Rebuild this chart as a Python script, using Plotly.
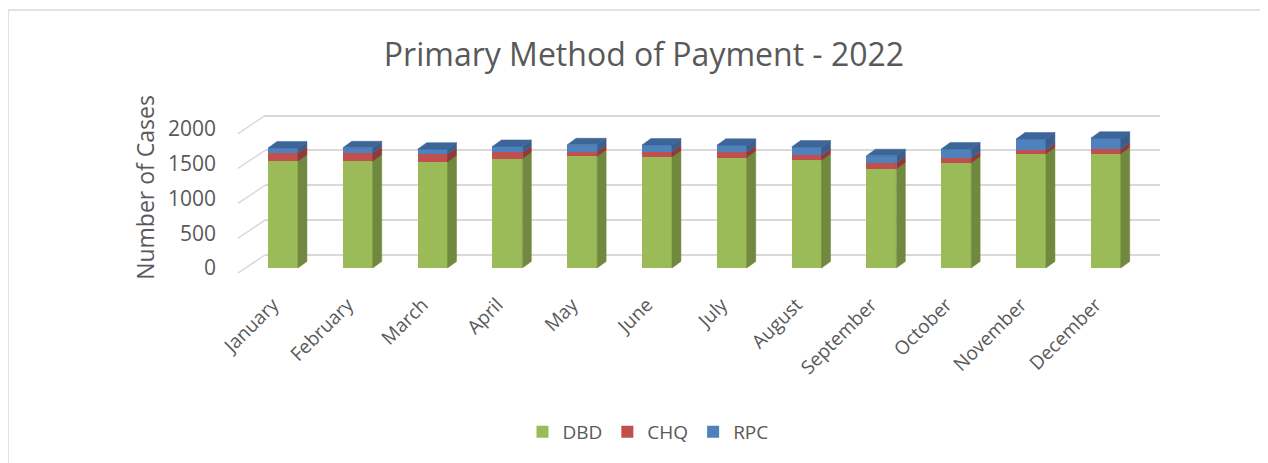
import plotly.graph_objects as go

# ---- data ----
months = ["January", "February", "March", "April", "May", "June",
          "July", "August", "September", "October", "November", "December"]
dbd = [1530, 1530, 1520, 1568, 1600, 1590, 1585, 1544, 1420, 1506, 1636, 1636]
chq = [120, 120, 115, 90, 68, 75, 80, 72, 86, 72, 62, 72]
rpc = [72, 75, 70, 86, 100, 100, 95, 120, 105, 130, 153, 155]
y_ticks = [0, 500, 1000, 1500, 2000]

series = [("DBD", dbd, "#9BBB59", "#71893F", "#86A34A"),
          ("CHQ", chq, "#C0504D", "#8E3A37", "#A94542"),
          ("RPC", rpc, "#4F81BD", "#3A5F8C", "#3C6598")]

# ---- geometry / style ----
W, H = 1268, 463
OX, OY = 8, 8                 # page body margin offset
ML = 265 - OX
MT = 100 - OY
plot_right = 1160 - OX
plot_bottom = 275 - OY
MR = W - plot_right
MB = H - plot_bottom
plot_w = plot_right - ML
plot_h = plot_bottom - MT
k = 0.0697                     # px per unit
bar_w = 0.40
hw = bar_w / 2
dx = 0.12                      # 3-D depth (category units)
dy = 6.5 / k                   # 3-D depth (value units)
txt = "#595959"
font_family = "Open Sans"

x = list(range(len(months)))

fig = go.Figure()

# front faces (stacked bars)
for name, vals, c_front, c_side, c_top in series:
    fig.add_trace(go.Bar(x=x, y=vals, name=name, width=bar_w,
                         marker=dict(color=c_front, line=dict(width=0)),
                         xaxis="x", yaxis="y2"))

# side and top faces computed from the data
base = [0] * len(months)
for si, (name, vals, c_front, c_side, c_top) in enumerate(series):
    sx, sy = [], []
    for i, (b, v) in enumerate(zip(base, vals)):
        t = b + v
        sx += [i + hw, i + hw + dx, i + hw + dx, i + hw, i + hw, None]
        sy += [b, b + dy, t + dy, t, b, None]
    fig.add_trace(go.Scatter(x=sx, y=sy, mode="lines", fill="toself",
                             fillcolor=c_side, line=dict(color=c_side, width=0.5),
                             hoverinfo="skip", showlegend=False,
                             xaxis="x", yaxis="y2"))
    base = [b + v for b, v in zip(base, vals)]
    if si == len(series) - 1:
        tx, ty = [], []
        for i, T in enumerate(base):
            tx += [i - hw, i - hw + dx, i + hw + dx, i + hw, i - hw, None]
            ty += [T, T + dy, T + dy, T, T, None]
        fig.add_trace(go.Scatter(x=tx, y=ty, mode="lines", fill="toself",
                                 fillcolor=c_top, line=dict(color=c_top, width=0.5),
                                 hoverinfo="skip", showlegend=False,
                                 xaxis="x", yaxis="y2"))

# ranges
first_center = 283 - OX
step = 74.8
x0 = (ML - first_center) / step
x1 = (plot_right - first_center) / step
back_zero_px = 255 - OY   # back wall zero line
front_zero_px = 268 - OY  # bar floor
y_back = [-(plot_bottom - back_zero_px) / k, (back_zero_px - MT) / k]
y_front = [-(plot_bottom - front_zero_px) / k, (front_zero_px - MT) / k]

shapes = []
# slanted side-wall lines
slant_px_x = 27
slant_px_y = 18
for v in y_ticks:
    shapes.append(dict(type="line", xref="paper", yref="y",
                       x0=-slant_px_x / plot_w, y0=v - slant_px_y / k,
                       x1=0, y1=v, line=dict(color="#D9D9D9", width=1.5)))
# chart border
shapes.append(dict(type="rect", xref="paper", yref="paper",
                   x0=(8 - OX - ML) / plot_w, x1=(W + 40 - ML) / plot_w,
                   y0=(plot_bottom - (H + 40)) / plot_h, y1=(plot_bottom - (10 - OY)) / plot_h,
                   line=dict(color="#D9D9D9", width=1.5), fillcolor="rgba(0,0,0,0)",
                   layer="below"))

fig.update_layout(
    width=W, height=H,
    margin=dict(l=ML, r=MR, t=MT, b=MB, autoexpand=False),
    paper_bgcolor="white", plot_bgcolor="white",
    barmode="stack",
    font=dict(family=font_family, color=txt),
    title=dict(text="Primary Method of Payment - 2022", x=(644 - OX) / W, xref="container",
               y=1 - (55 - OY) / H, yref="container", yanchor="middle", xanchor="center",
               font=dict(size=32, color=txt, family=font_family)),
    xaxis=dict(range=[x0, x1], tickmode="array", tickvals=x, ticktext=months,
               tickangle=-45, showgrid=False, zeroline=False, showline=False,
               ticks="", tickfont=dict(size=19, color=txt), ticklabelstandoff=14,
               ticklabelshift=-10, automargin=False),
    yaxis=dict(range=y_back, tickvals=y_ticks, showticklabels=False,
               showgrid=True, gridcolor="#D9D9D9", gridwidth=1.5,
               zeroline=False, showline=False, ticks="", automargin=False),
    yaxis2=dict(range=y_front, overlaying="y", side="left", tickvals=y_ticks,
                showgrid=False, zeroline=False, showline=False, ticks="",
                tickfont=dict(size=21, color=txt), ticklabelstandoff=48,
                automargin=False,
                title=dict(text="Number of Cases", font=dict(size=23, color=txt),
                           standoff=6)),
    legend=dict(orientation="h", x=(648 - OX - ML) / plot_w, xanchor="center",
                y=(plot_bottom - (432 - OY)) / plot_h, yanchor="middle",
                font=dict(size=19, color=txt), traceorder="normal"),
    shapes=shapes,
    showlegend=True,
)

fig.write_html("out.html")
